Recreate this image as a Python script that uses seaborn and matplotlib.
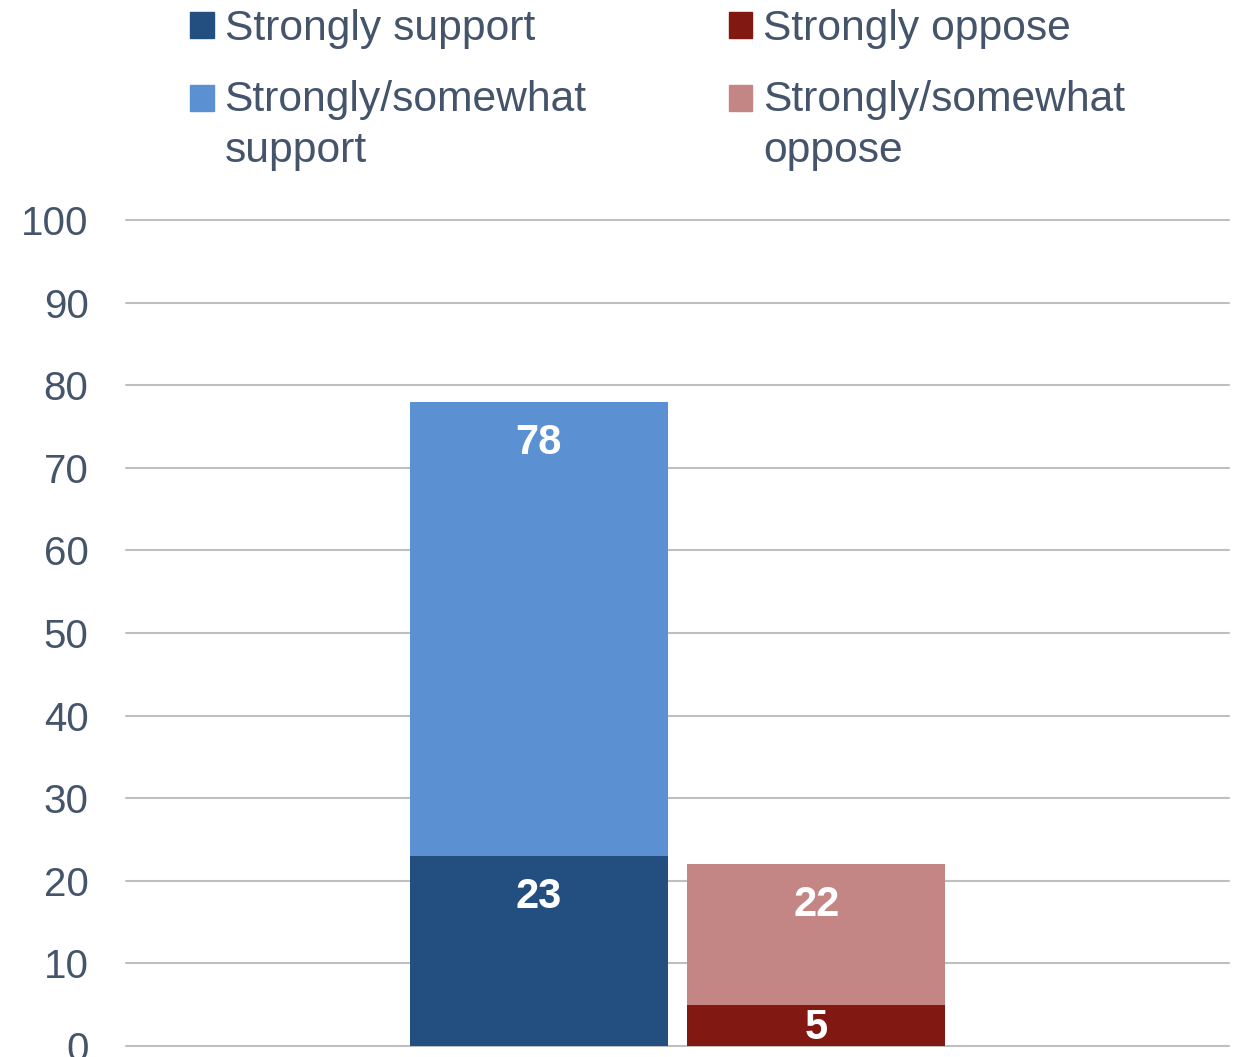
import pandas as pd
import matplotlib.pyplot as plt
import seaborn as sns
from matplotlib.patches import Patch
from matplotlib.legend_handler import HandlerPatch

# data
sides = ["Support", "Oppose"]
total_vals = [78, 22]      # strongly/somewhat
strong_vals = [23, 5]      # strongly
legend_labels = ["Strongly support", "Strongly/somewhat\nsupport",
                 "Strongly oppose", "Strongly/somewhat\noppose"]

dark_blue = "#234F80"
light_blue = "#5B91D3"
dark_red = "#821812"
pink = "#C48684"
text_col = "#44546A"


class TopPatch(HandlerPatch):
    # moves the legend square up to the first line of a two-line label
    def __init__(self, dy=0, **kw):
        super().__init__(**kw)
        self.dy = dy

    def create_artists(self, legend, orig_handle, xdescent, ydescent,
                       width, height, fontsize, trans):
        return super().create_artists(legend, orig_handle, xdescent,
                                      ydescent - self.dy, width, height,
                                      fontsize, trans)


df = pd.DataFrame({"side": sides, "total": total_vals, "strong": strong_vals})

sns.set_style("white")
plt.rcParams['font.family'] = ['Liberation Sans', 'DejaVu Sans']

fig = plt.figure(figsize=(12.34, 10.57), dpi=100)
ax = fig.add_axes([126 / 1234, 11 / 1057, 1103 / 1234, 826 / 1057])

# stacked look: total bar first, strong part drawn over it
sns.barplot(data=df, x="side", y="total", hue="side", palette=[light_blue, pink],
            width=0.93, legend=False, ax=ax, saturation=1, linewidth=0)
sns.barplot(data=df, x="side", y="strong", hue="side", palette=[dark_blue, dark_red],
            width=0.93, legend=False, ax=ax, saturation=1, linewidth=0)

lab_kw = dict(color="white", fontsize=30, fontweight="bold", ha="center")
for i, (t, s) in enumerate(zip(total_vals, strong_vals)):
    ax.annotate(str(t), (i, t), xytext=(0, -15), textcoords="offset points",
                va="top", **lab_kw)
    if s >= 10:
        ax.annotate(str(s), (i, s), xytext=(0, -15), textcoords="offset points",
                    va="top", **lab_kw)
    else:
        ax.annotate(str(s), (i, s / 2), xytext=(0, -2), textcoords="offset points",
                    va="center", **lab_kw)

ax.set_xlim(-1.488, 2.487)
ax.set_ylim(0, 100)
ax.set_yticks(range(0, 101, 10))
ax.set_xticks([])
ax.set_xlabel("")
ax.set_ylabel("")
ax.tick_params(axis="y", length=0, pad=27, labelsize=29, labelcolor=text_col)
for lbl in ax.get_yticklabels():
    lbl.set_verticalalignment("center_baseline")
ax.yaxis.grid(True, color="#BFBFBF", linewidth=1.5)
for gl in ax.get_ygridlines():
    gl.set_clip_on(False)
ax.set_axisbelow(True)
sns.despine(ax=ax, left=True, bottom=True)

handles = [Patch(color=dark_blue), Patch(color=light_blue),
           Patch(color=dark_red), Patch(color=pink)]
hmap = {handles[0]: TopPatch(0), handles[1]: TopPatch(20),
        handles[2]: TopPatch(0), handles[3]: TopPatch(20)}
leg = fig.legend(handles, legend_labels, ncol=2, loc="upper left",
                 bbox_to_anchor=(190 / 1234, 1 - 9 / 1057), frameon=False,
                 fontsize=30.7, labelcolor=text_col, handlelength=0.56,
                 handleheight=0.56, handletextpad=0.25, columnspacing=3.33,
                 labelspacing=0.72, borderpad=0, borderaxespad=0, handler_map=hmap)
for t in leg.get_texts():
    t.set_linespacing(1.35)

fig.savefig("out.png", dpi=100)
